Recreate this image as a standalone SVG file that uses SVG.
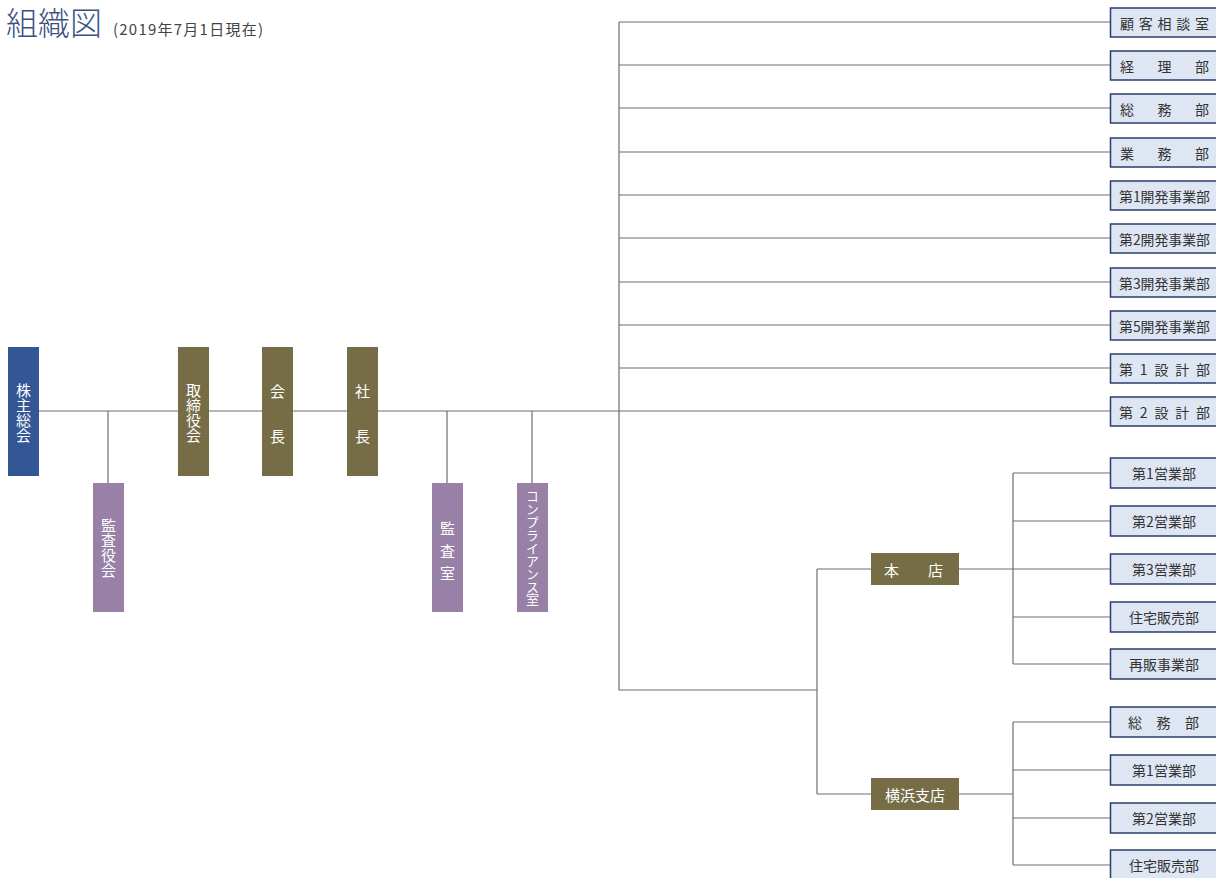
<svg xmlns="http://www.w3.org/2000/svg" width="1216" height="878" viewBox="0 0 1216 878">
<style>
text{font-family:"Noto Sans CJK JP","Noto Sans",sans-serif}
.ln{stroke:#6e6e6e;stroke-width:1.2;fill:none}
.blue{fill:#335695}
.olive{fill:#766d47}
.purple{fill:#9880a7}
.dept{fill:#dfe6f3;stroke:#2b3d6b;stroke-width:1.5}
.w{fill:#ffffff;font-size:15px;text-anchor:middle;dominant-baseline:central}
.v{fill:#ffffff;font-size:15px;writing-mode:vertical-rl;text-orientation:upright}
.d{fill:#333333;font-size:14px;dominant-baseline:central}
.dc{fill:#333333;font-size:14px;dominant-baseline:central;text-anchor:middle}
.bw{fill:#ffffff;font-size:15px;dominant-baseline:central}
</style>
<rect width="1216" height="878" fill="#ffffff"/>
<g id="title">
<text x="6" y="35" font-size="32" fill="#3a5283" style="font-weight:300">組織図</text>
<text x="113" y="35" font-size="15" fill="#444444" textLength="150" lengthAdjust="spacing">(2019年7月1日現在)</text>
</g>
<g id="connectors">
<path class="ln" d="M39 411H1110"/>
<path class="ln" d="M108 411V483M447 411V483M532 411V483"/>
<path class="ln" d="M619 22V690H817M817 569V794M817 569H871M817 794H871"/>
<path class="ln" d="M619 22H1110M619 65H1110M619 108H1110M619 152H1110M619 195H1110M619 238H1110M619 282H1110M619 325H1110M619 368H1110"/>
<path class="ln" d="M959 569H1013M1013 473V664M1013 473H1110M1013 521H1110M1013 569H1110M1013 617H1110M1013 664H1110"/>
<path class="ln" d="M959 794H1013M1013 722V865M1013 722H1110M1013 770H1110M1013 818H1110M1013 865H1110"/>
</g>
<g id="n-kabunushi"><rect class="blue" x="8" y="347" width="31" height="129"/>
<text class="v" x="23.5" y="382.5">株主総会</text></g>
<g id="n-kansayakukai"><rect class="purple" x="93" y="483" width="31" height="129"/>
<text class="v" x="108.5" y="517.5">監査役会</text></g>
<g id="n-torishimariyakukai"><rect class="olive" x="178" y="347" width="31" height="129"/>
<text class="v" x="193.5" y="382.5">取締役会</text></g>
<g id="n-kaicho"><rect class="olive" x="262" y="347" width="31" height="129"/>
<text class="w" x="277.5" y="390">会</text><text class="w" x="277.5" y="435">長</text></g>
<g id="n-shacho"><rect class="olive" x="347" y="347" width="31" height="129"/>
<text class="w" x="362.5" y="390">社</text><text class="w" x="362.5" y="435">長</text></g>
<g id="n-kansashitsu"><rect class="purple" x="432" y="483" width="31" height="129"/>
<text class="w" x="447.5" y="527">監</text><text class="w" x="447.5" y="550">査</text><text class="w" x="447.5" y="572">室</text></g>
<g id="n-compliance"><rect class="purple" x="517" y="483" width="31" height="129"/>
<text x="532.5" y="490" fill="#ffffff" font-size="13" style="writing-mode:vertical-rl;text-orientation:upright" textLength="116" lengthAdjust="spacing">コンプライアンス室</text></g>
<g id="n-honten"><rect class="olive" x="871" y="553" width="88" height="32"/>
<text class="bw" x="884" y="569">本</text><text class="bw" x="928" y="569">店</text></g>
<g id="n-yokohama"><rect class="olive" x="871" y="778" width="88" height="32"/>
<text class="w" x="915" y="794">横浜支店</text></g>
<g id="n-d1"><rect class="dept" x="1110.5" y="8" width="108" height="29"/><text class="d" x="1120" y="22.5" textLength="89" lengthAdjust="spacing">顧客相談室</text></g>
<g id="n-d2"><rect class="dept" x="1110.5" y="51" width="108" height="29"/><text class="d" x="1120" y="65.5" textLength="89" lengthAdjust="spacing">経理部</text></g>
<g id="n-d3"><rect class="dept" x="1110.5" y="94" width="108" height="29"/><text class="d" x="1120" y="108.5" textLength="89" lengthAdjust="spacing">総務部</text></g>
<g id="n-d4"><rect class="dept" x="1110.5" y="138" width="108" height="29"/><text class="d" x="1120" y="152.5" textLength="89" lengthAdjust="spacing">業務部</text></g>
<g id="n-d5"><rect class="dept" x="1110.5" y="181" width="108" height="29"/><text class="d" x="1119" y="195.5" textLength="91" lengthAdjust="spacingAndGlyphs" font-size="13.5">第1開発事業部</text></g>
<g id="n-d6"><rect class="dept" x="1110.5" y="224" width="108" height="29"/><text class="d" x="1119" y="238.5" textLength="91" lengthAdjust="spacingAndGlyphs" font-size="13.5">第2開発事業部</text></g>
<g id="n-d7"><rect class="dept" x="1110.5" y="268" width="108" height="29"/><text class="d" x="1119" y="282.5" textLength="91" lengthAdjust="spacingAndGlyphs" font-size="13.5">第3開発事業部</text></g>
<g id="n-d8"><rect class="dept" x="1110.5" y="311" width="108" height="29"/><text class="d" x="1119" y="325.5" textLength="91" lengthAdjust="spacingAndGlyphs" font-size="13.5">第5開発事業部</text></g>
<g id="n-d9"><rect class="dept" x="1110.5" y="354" width="108" height="29"/><text class="d" x="1119" y="368.5" textLength="91" lengthAdjust="spacing">第1設計部</text></g>
<g id="n-d10"><rect class="dept" x="1110.5" y="397" width="108" height="29"/><text class="d" x="1119" y="411.5" textLength="91" lengthAdjust="spacing">第2設計部</text></g>
<g id="n-h1"><rect class="dept" x="1110.5" y="458" width="108" height="30"/><text class="dc" x="1164" y="473">第1営業部</text></g>
<g id="n-h2"><rect class="dept" x="1110.5" y="506" width="108" height="30"/><text class="dc" x="1164" y="521">第2営業部</text></g>
<g id="n-h3"><rect class="dept" x="1110.5" y="554" width="108" height="30"/><text class="dc" x="1164" y="569">第3営業部</text></g>
<g id="n-h4"><rect class="dept" x="1110.5" y="602" width="108" height="30"/><text class="dc" x="1164" y="617">住宅販売部</text></g>
<g id="n-h5"><rect class="dept" x="1110.5" y="649" width="108" height="30"/><text class="dc" x="1164" y="664">再販事業部</text></g>
<g id="n-y1"><rect class="dept" x="1110.5" y="707" width="108" height="30"/><text class="d" x="1128" y="722" textLength="71" lengthAdjust="spacing">総務部</text></g>
<g id="n-y2"><rect class="dept" x="1110.5" y="755" width="108" height="30"/><text class="dc" x="1164" y="770">第1営業部</text></g>
<g id="n-y3"><rect class="dept" x="1110.5" y="803" width="108" height="30"/><text class="dc" x="1164" y="818">第2営業部</text></g>
<g id="n-y4"><rect class="dept" x="1110.5" y="850" width="108" height="32"/><text class="dc" x="1164" y="865">住宅販売部</text></g>
</svg>
